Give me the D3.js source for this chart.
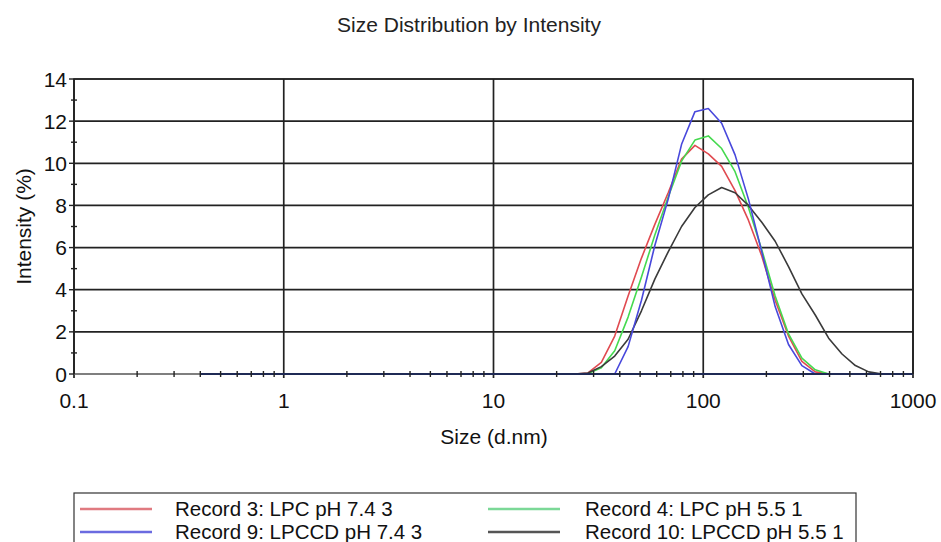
<!DOCTYPE html>
<html>
<head>
<meta charset="utf-8">
<script src="https://cdn.jsdelivr.net/npm/d3@7"></script>
<style>
  body { margin: 0; background: #fff; }
  svg { display: block; font-family: "Liberation Sans", Arial, sans-serif; }
</style>
</head>
<body>
<script>
// size bins (d.nm)
const sizes = [0.4, 0.4632, 0.5365, 0.6213, 0.7195, 0.8332, 0.9649, 1.117, 1.294, 1.499,
  1.736, 2.01, 2.328, 2.696, 3.122, 3.615, 4.187, 4.849, 5.615, 6.503,
  7.531, 8.721, 10.1, 11.7, 13.54, 15.69, 18.17, 21.04, 24.36, 28.21,
  32.67, 37.84, 43.82, 50.75, 58.77, 68.06, 78.82, 91.28, 105.7, 122.4,
  141.8, 164.2, 190.1, 220.2, 255.0, 295.3, 342.0, 396.1, 458.7, 531.2,
  615.1, 712.4, 825.0, 955.4, 1106];

// intensity (%) per bin
const record3 = [0, 0, 0, 0, 0, 0, 0, 0, 0, 0,
  0, 0, 0, 0, 0, 0, 0, 0, 0, 0,
  0, 0, 0, 0, 0, 0, 0, 0, 0, 0.05,
  0.55, 1.8, 3.7, 5.5, 7.1, 8.6, 10.2, 10.85, 10.45, 9.85,
  8.7, 7.3, 5.6, 3.5, 1.8, 0.6, 0.1, 0, 0, 0,
  0, 0, 0, 0, 0];
const record4 = [0, 0, 0, 0, 0, 0, 0, 0, 0, 0,
  0, 0, 0, 0, 0, 0, 0, 0, 0, 0,
  0, 0, 0, 0, 0, 0, 0, 0, 0, 0.02,
  0.3, 1.1, 2.7, 4.6, 6.6, 8.4, 10.1, 11.1, 11.3, 10.7,
  9.6, 7.9, 5.9, 3.7, 1.9, 0.75, 0.2, 0, 0, 0,
  0, 0, 0, 0, 0];
const record9 = [0, 0, 0, 0, 0, 0, 0, 0, 0, 0,
  0, 0, 0, 0, 0, 0, 0, 0, 0, 0,
  0, 0, 0, 0, 0, 0, 0, 0, 0, 0,
  0, 0, 1.3, 3.5, 6.1, 8.3, 10.9, 12.45, 12.6, 11.9,
  10.4, 8.3, 5.8, 3.2, 1.4, 0.4, 0, 0, 0, 0,
  0, 0, 0, 0, 0];
const record10 = [0, 0, 0, 0, 0, 0, 0, 0, 0, 0,
  0, 0, 0, 0, 0, 0, 0, 0, 0, 0,
  0, 0, 0, 0, 0, 0, 0, 0, 0, 0.05,
  0.35, 0.85, 1.65, 3.0, 4.5, 5.8, 7.0, 7.9, 8.5, 8.85,
  8.6, 8.0, 7.2, 6.3, 5.1, 3.8, 2.8, 1.7, 0.95, 0.4,
  0.1, 0, 0, 0, 0];

const seriesNames = ["Record 3: LPC pH 7.4 3", "Record 4: LPC pH 5.5 1",
  "Record 9: LPCCD pH 7.4 3", "Record 10: LPCCD pH 5.5 1"];
const seriesColors = ["#e04a50", "#45d94f", "#4848dc", "#3a3a3a"];
const legendColors = ["#e07a80", "#7bd897", "#6b6be0", "#555"];

const xTicks = [0.1, 1, 10, 100, 1000];
const yTicks = [0, 2, 4, 6, 8, 10, 12, 14];

const width = 941, height = 542;
const margin = { top: 79, right: 28, bottom: 168, left: 74 };
const fs = 21;

const svg = d3.select("body").append("svg")
  .attr("width", width)
  .attr("height", height);

const x = d3.scaleLog().domain([0.1, 1000]).range([margin.left, width - margin.right]);
const y = d3.scaleLinear().domain([0, 14]).range([height - margin.bottom, margin.top]);

const gridCol = "#222";

svg.append("defs").append("clipPath").attr("id", "plot")
  .append("rect")
  .attr("x", x(0.1)).attr("y", y(14) - 5)
  .attr("width", x(1000) - x(0.1)).attr("height", y(0) - y(14) + 10);

// horizontal grid
svg.append("g").selectAll("line")
  .data(yTicks.filter(d => d > 0))
  .join("line")
  .attr("x1", x(0.1)).attr("x2", x(1000))
  .attr("y1", d => y(d)).attr("y2", d => y(d))
  .attr("stroke", gridCol).attr("stroke-width", 1.7);

// vertical grid (with small tick below axis)
svg.append("g").selectAll("line")
  .data(xTicks)
  .join("line")
  .attr("x1", d => x(d)).attr("x2", d => x(d))
  .attr("y1", y(14)).attr("y2", y(0) + 4)
  .attr("stroke", gridCol).attr("stroke-width", 1.7);

// x axis line
svg.append("line")
  .attr("x1", x(0.1)).attr("x2", x(1000))
  .attr("y1", y(0)).attr("y2", y(0))
  .attr("stroke", "#555").attr("stroke-width", 1.6);

// y major ticks
svg.append("g").selectAll("line")
  .data(yTicks)
  .join("line")
  .attr("x1", x(0.1) - 5).attr("x2", x(0.1))
  .attr("y1", d => y(d)).attr("y2", d => y(d))
  .attr("stroke", gridCol).attr("stroke-width", 1.4);

// y minor ticks
const yMinor = d3.range(1, 14, 2);
svg.append("g").selectAll("line")
  .data(yMinor)
  .join("line")
  .attr("x1", x(0.1) - 3).attr("x2", x(0.1) + 3)
  .attr("y1", d => y(d)).attr("y2", d => y(d))
  .attr("stroke", gridCol).attr("stroke-width", 1.4);

// curves
const line = d3.line()
  .x(d => x(d[0]))
  .y(d => y(d[1]));

const allSeries = [record3, record4, record10, record9];
const order = [0, 1, 3, 2];
svg.append("g").attr("clip-path", "url(#plot)")
  .selectAll("path")
  .data(allSeries)
  .join("path")
  .attr("d", vals => line(sizes.map((s, i) => [s, vals[i]])))
  .attr("fill", "none")
  .attr("stroke", (d, i) => seriesColors[order[i]])
  .attr("stroke-width", 1.6)
  .attr("stroke-linejoin", "round");

// baseline where the data sit (dark)
svg.append("line")
  .attr("x1", x(0.4)).attr("x2", x(1000))
  .attr("y1", y(0)).attr("y2", y(0))
  .attr("stroke", "#1f2a55").attr("stroke-width", 2);

// x minor ticks
const xMinor = [];
[0.1, 1, 10, 100].forEach(dec => { for (let k = 2; k <= 9; k++) xMinor.push(dec * k); });
svg.append("g").selectAll("line")
  .data(xMinor)
  .join("line")
  .attr("x1", d => x(d)).attr("x2", d => x(d))
  .attr("y1", y(0) - 3).attr("y2", y(0) + 3)
  .attr("stroke", gridCol).attr("stroke-width", 1.4);

// frame: left, top, right
svg.append("path")
  .attr("d", `M${x(0.1)},${y(0)}V${y(14)}H${x(1000)}V${y(0)}`)
  .attr("fill", "none").attr("stroke", gridCol).attr("stroke-width", 1.7);

// tick labels
svg.append("g").selectAll("text")
  .data(yTicks)
  .join("text")
  .attr("x", x(0.1) - 7)
  .attr("y", d => y(d) + 7.5)
  .attr("text-anchor", "end")
  .attr("font-size", fs)
  .attr("fill", "#111")
  .text(d => d);

svg.append("g").selectAll("text")
  .data(xTicks)
  .join("text")
  .attr("x", d => x(d))
  .attr("y", 408)
  .attr("text-anchor", "middle")
  .attr("font-size", fs)
  .attr("fill", "#111")
  .text(d => d);

// titles
svg.append("text")
  .attr("x", 469).attr("y", 32)
  .attr("text-anchor", "middle")
  .attr("font-size", fs)
  .attr("fill", "#222")
  .text("Size Distribution by Intensity");

svg.append("text")
  .attr("x", 494).attr("y", 444)
  .attr("text-anchor", "middle")
  .attr("font-size", fs)
  .attr("fill", "#111")
  .text("Size (d.nm)");

svg.append("text")
  .attr("transform", `translate(31,${(y(0) + y(14)) / 2}) rotate(-90)`)
  .attr("text-anchor", "middle")
  .attr("font-size", fs)
  .attr("fill", "#111")
  .text("Intensity (%)");

// legend
const legend = svg.append("g");
legend.append("rect")
  .attr("x", 74).attr("y", 493)
  .attr("width", 782).attr("height", 70)
  .attr("fill", "none").attr("stroke", "#333").attr("stroke-width", 1.2);

const legendItems = [
  { i: 0, col: 0, row: 0 }, { i: 1, col: 1, row: 0 },
  { i: 2, col: 0, row: 1 }, { i: 3, col: 1, row: 1 }
];
const colX = [80, 488];
const rowY = [509, 532];
legendItems.forEach(it => {
  legend.append("line")
    .attr("x1", colX[it.col]).attr("x2", colX[it.col] + 72)
    .attr("y1", rowY[it.row]).attr("y2", rowY[it.row])
    .attr("stroke", legendColors[it.i]).attr("stroke-width", 2.5);
  legend.append("text")
    .attr("x", colX[it.col] + (it.col ? 97 : 95))
    .attr("y", rowY[it.row] + 7)
    .attr("font-size", 20.5)
    .attr("fill", "#111")
    .text(seriesNames[it.i]);
});
</script>
</body>
</html>
